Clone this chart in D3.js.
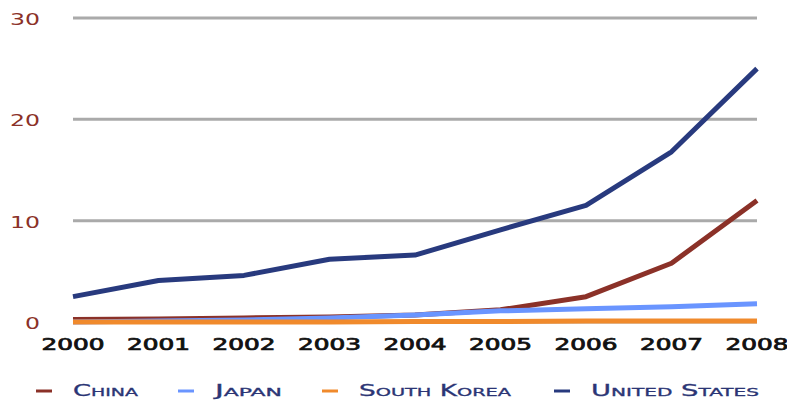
<!DOCTYPE html>
<html>
<head>
<meta charset="utf-8">
<script src="https://cdn.jsdelivr.net/npm/d3@7"></script>
<style>
  body { margin: 0; background: #fff; }
  text { font-family: "DejaVu Sans", sans-serif; }
</style>
</head>
<body>
<div id="root"></div>
<script>
// Data
const years = ['2000', '2001', '2002', '2003', '2004', '2005', '2006', '2007', '2008'];
const china = [0.25, 0.3, 0.4, 0.5, 0.7, 1.2, 2.5, 5.8, 12.0];
const japan = [0.0, 0.1, 0.2, 0.4, 0.7, 1.1, 1.3, 1.5, 1.8];
const southKorea = [0.0, 0.0, 0.0, 0.0, 0.05, 0.05, 0.1, 0.1, 0.1];
const unitedStates = [2.5, 4.1, 4.6, 6.2, 6.6, 9.1, 11.5, 16.8, 25.0];
const yTicks = [0, 10, 20, 30];

const seriesNames = ['China', 'Japan', 'South Korea', 'United States'];
const seriesValues = [china, japan, southKorea, unitedStates];
const colors = ['#8b3128', '#6a95ff', '#f08a2c', '#283a7e'];

// Variables
const width = 787;
const height = 400;
const margin = {left: 73, right: 30, top: 18, bottom: 78};

const svg = d3.select('#root')
  .append('svg')
  .attr('width', width)
  .attr('height', height);

const x = d3.scalePoint()
  .domain(years)
  .range([margin.left, width - margin.right]);

const y = d3.scaleLinear()
  .domain([0, 30])
  .range([height - margin.bottom, margin.top]);

// Gridlines
svg.append('g')
  .selectAll('line')
  .data(yTicks)
  .join('line')
    .attr('x1', margin.left)
    .attr('x2', width - margin.right)
    .attr('y1', d => y(d))
    .attr('y2', d => y(d))
    .attr('stroke', '#aaaaaa')
    .attr('stroke-width', 3);

// Y labels (wide face faked with textLength)
svg.append('g')
  .selectAll('text')
  .data(yTicks)
  .join('text')
    .attr('x', 40)
    .attr('y', d => y(d) + 7)
    .attr('text-anchor', 'end')
    .attr('fill', '#8b3128')
    .attr('textLength', d => String(d).length * 15)
    .attr('lengthAdjust', 'spacingAndGlyphs')
    .style('font-size', '15px')
    .text(d => d);

// X labels
svg.append('g')
  .selectAll('text')
  .data(years)
  .join('text')
    .attr('x', d => x(d))
    .attr('y', 350)
    .attr('text-anchor', 'middle')
    .attr('fill', '#111')
    .attr('stroke', '#111')
    .attr('stroke-width', 0.7)
    .attr('textLength', 63)
    .attr('lengthAdjust', 'spacingAndGlyphs')
    .style('font-size', '15px')
    .text(d => d);

// Lines
const line = d3.line()
  .x((d, i) => x(years[i]))
  .y(d => y(d));

svg.append('g')
  .selectAll('path')
  .data(seriesValues)
  .join('path')
    .attr('d', d => line(d))
    .attr('fill', 'none')
    .attr('stroke', (d, i) => colors[i])
    .attr('stroke-width', 5)
    .attr('stroke-linejoin', 'round');

// Legend
const legendX = [36, 178, 322, 554];
const legendTextWidth = [65, 67, 152, 168];
const legend = svg.append('g')
  .selectAll('g')
  .data(seriesNames)
  .join('g')
    .attr('transform', (d, i) => `translate(${legendX[i]},391)`);

legend.append('line')
  .attr('x1', 0)
  .attr('x2', 16)
  .attr('stroke', (d, i) => colors[i])
  .attr('stroke-width', 3);

legend.append('text')
  .attr('x', 37)
  .attr('y', 5)
  .attr('fill', '#2b3575')
  .attr('stroke', '#2b3575')
  .attr('stroke-width', 0.3)
  .attr('textLength', (d, i) => legendTextWidth[i])
  .attr('lengthAdjust', 'spacingAndGlyphs')
  .style('font-size', '15px')
  .style('font-variant', 'small-caps')
  .text(d => d);
</script>
</body>
</html>
